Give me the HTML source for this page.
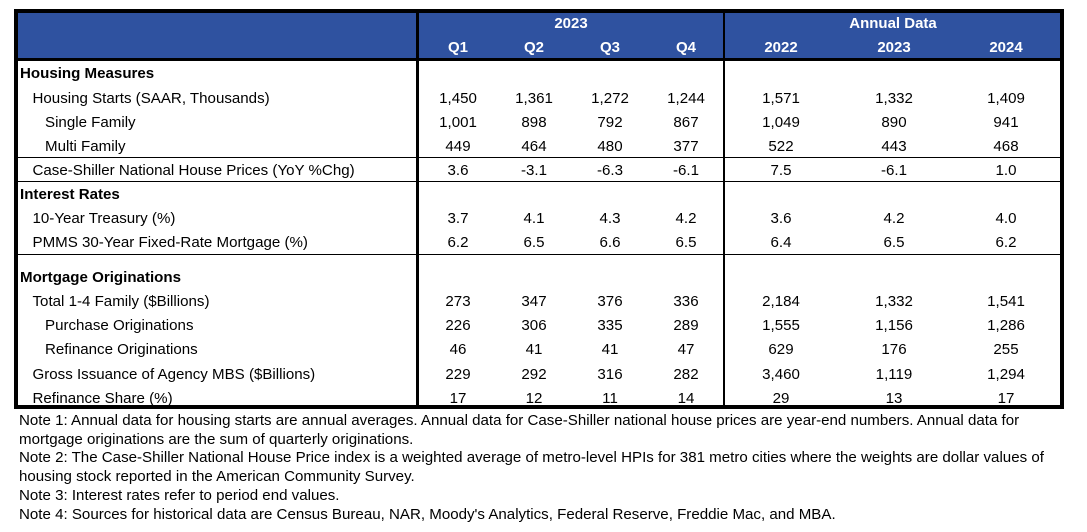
<!DOCTYPE html>
<html><head><meta charset="utf-8">
<style>
html,body{margin:0;padding:0;background:#fff;}
body{width:1087px;height:532px;position:relative;overflow:hidden;font-family:"Liberation Sans",Arial,sans-serif;font-size:15.1px;color:#000;}
.a{position:absolute;white-space:nowrap;}
.ln{position:absolute;background:#000;}
.c{transform:translateX(-50%);}
.hd{color:#fff;font-weight:bold;font-size:15px;}
.b{font-weight:bold;}
</style></head><body>
<div class="a" style="left:14px;top:9px;width:1050px;height:52px;background:#2F52A0;"></div>
<div class="a hd c" style="left:571px;top:15px;">2023</div>
<div class="a hd c" style="left:893px;top:15px;">Annual Data</div>
<div class="a" style="left:19px;top:412px;line-height:18.7px;font-size:15.1px;">
Note 1: Annual data for housing starts are annual averages. Annual data for Case-Shiller national house prices are year-end numbers. Annual data for<br>
mortgage originations are the sum of quarterly originations.<br>
Note 2: The Case-Shiller National House Price index is a weighted average of metro-level HPIs for 381 metro cities where the weights are dollar values of<br>
housing stock reported in the American Community Survey.<br>
Note 3: Interest rates refer to period end values.<br>
Note 4: Sources for historical data are Census Bureau, NAR, Moody's Analytics, Federal Reserve, Freddie Mac, and MBA.
</div>
<script>
const columns=["Q1","Q2","Q3","Q4","2022","2023","2024"];
const rowLabels=["Housing Measures","Housing Starts (SAAR, Thousands)","Single Family","Multi Family","Case-Shiller National House Prices (YoY %Chg)","Interest Rates","10-Year Treasury (%)","PMMS 30-Year Fixed-Rate Mortgage (%)","Mortgage Originations","Total 1-4 Family ($Billions)","Purchase Originations","Refinance Originations","Gross Issuance of Agency MBS ($Billions)","Refinance Share (%)"];
const rowIndent=[0,1,2,2,1,0,1,1,0,1,2,2,1,1];
const rowValues=[
 null,
 ["1,450","1,361","1,272","1,244","1,571","1,332","1,409"],
 ["1,001","898","792","867","1,049","890","941"],
 ["449","464","480","377","522","443","468"],
 ["3.6","-3.1","-6.3","-6.1","7.5","-6.1","1.0"],
 null,
 ["3.7","4.1","4.3","4.2","3.6","4.2","4.0"],
 ["6.2","6.5","6.6","6.5","6.4","6.5","6.2"],
 null,
 ["273","347","376","336","2,184","1,332","1,541"],
 ["226","306","335","289","1,555","1,156","1,286"],
 ["46","41","41","47","629","176","255"],
 ["229","292","316","282","3,460","1,119","1,294"],
 ["17","12","11","14","29","13","17"]
];
const colX=[458,534,610,686,781,894,1006];
const rowY=[65,90,114,138,162,186,210,234,269,293,317,341,366,390];
const root=document.body;
function mk(cls,style,txt){const d=document.createElement('div');d.className=cls;d.style.cssText=style;if(txt!=null)d.textContent=txt;root.appendChild(d);return d;}
columns.forEach((c,i)=>{
 const el=mk('a hd c','left:'+colX[i]+'px;top:39px;',c);
 
 
});
rowLabels.forEach((l,r)=>{
 const el=mk('a'+(rowIndent[r]===0?' b':''),'left:'+(20+rowIndent[r]*12.5)+'px;top:'+rowY[r]+'px;',l);
 
 
 if(rowValues[r]){rowValues[r].forEach((v,i)=>{
  const e=mk('a c','left:'+colX[i]+'px;top:'+rowY[r]+'px;',v);
  
  
 });}
});
const lines=[
 [14,9,1050,4],[14,405,1050,4],[14,9,4,400],[1060,9,4,400],[14,58,1050,3],
 [416,9,3,400],[723,9,2,400],
 [18,157,1042,1],[18,181,1042,1],[18,254,1042,1]
];
lines.forEach(l=>{
 const e=mk('ln','left:'+l[0]+'px;top:'+l[1]+'px;width:'+l[2]+'px;height:'+l[3]+'px;');
 
 
});
</script>
</body></html>
